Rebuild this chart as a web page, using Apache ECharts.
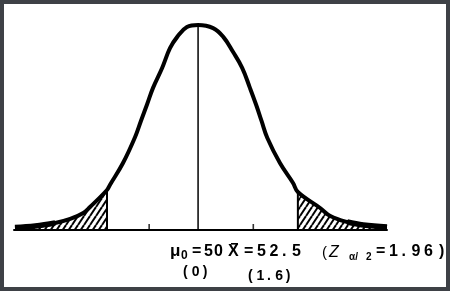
<!DOCTYPE html>
<html><head><meta charset="utf-8">
<script src="https://cdn.jsdelivr.net/npm/echarts@6/dist/echarts.min.js"></script>
<style>html,body{margin:0;padding:0;background:#fff}#c{width:450px;height:291px}</style>
</head><body><div id="c"></div>
<script>
// Curve (z-like units, density)
var curveX = [-3.78,-3.36,-2.95,-2.64,-2.37,-2.23,-1.88,-1.82,-1.55,-1.30,-1.18,-1.05,-0.93,-0.74,-0.58,-0.43,-0.23,0,0.31,0.52,0.72,0.91,1.07,1.20,1.31,1.43,1.69,1.96,2.06,2.52,2.73,3.08,3.41,3.90];
var curveY = [0.0049,0.0078,0.0136,0.0214,0.033,0.0447,0.0777,0.0874,0.130,0.1806,0.2117,0.2447,0.276,0.315,0.353,0.375,0.394,0.398,0.392,0.375,0.346,0.315,0.276,0.2427,0.2117,0.1786,0.130,0.0913,0.0738,0.0427,0.0272,0.0155,0.0097,0.0058];
var cutLeft = -1.88, cutRight = 2.06;
var tailLeftEnd = -2.95, tailRightStart = 3.08;
var tickX = [-1.01, 1.14];
var labelMu = ['μ', '0', '=', '50'];
var labelMean = ['X', '=', '52.5'];
var labelZ = ['(', 'Z', 'α/', '2', '=', '1.96', ')'];
var labelZ0 = '(0)', labelZ1 = '(1.6)';

var pts = curveX.map(function(x,i){return [x, curveY[i]];});
var leftPts = pts.filter(function(p){return p[0] <= cutLeft;});
var rightPts = pts.filter(function(p){return p[0] >= cutRight;});
var leftTail = pts.filter(function(p){return p[0] <= tailLeftEnd;});
var rightTail = pts.filter(function(p){return p[0] >= tailRightStart;});
function yAt(x){ for (var i=0;i<pts.length;i++) if (pts[i][0]===x) return pts[i][1]; return 0; }

var cv = document.createElement('canvas');
var w = 6, h = 9; cv.width = w; cv.height = h;
var g = cv.getContext('2d');
g.strokeStyle = '#000'; g.lineWidth = 2;
[-w,0,w].forEach(function(o){ g.beginPath(); g.moveTo(o,h); g.lineTo(o+w,0); g.stroke(); });

var font = '"Liberation Sans", Arial, sans-serif';
var gr = [];
function txt(s, x, base, size, weight){
  gr.push({type:'text',x:x,y:base - 0.87*size,style:{text:s,font:(weight||'bold')+' '+size+'px '+font,fill:'#000'}});
}
function spaced(s, x, base, size, adv){
  for (var i=0;i<s.length;i++){ var c=s[i]; txt(c, x, base, size); x += (c==='.'||c==='('||c===')') ? adv*0.8 : adv; }
}
// line 1
txt(labelMu[0],170,258,17); txt(labelMu[1],181,260,12); txt(labelMu[2],192,258,16); spaced(labelMu[3],204,258,16,10);
txt(labelMean[0],228,258,16); gr.push({type:'rect',shape:{x:231,y:243,width:7,height:1.6},style:{fill:'#000'}});
txt(labelMean[1],244,258,16); spaced(labelMean[2],257,258,16,12.5);
txt(labelZ[0],322,258,15,'normal'); txt(labelZ[1],329,258,16,'italic');
txt(labelZ[2],349,261,10); txt(labelZ[3],366,261,10);
txt(labelZ[4],376,258,16); spaced(labelZ[5],389,258,16,12.5); txt(labelZ[6],439,258,16);
// line 2
spaced(labelZ0,183,277,14,11);
spaced(labelZ1,248,281,14,10.5);
gr.push({type:'rect',shape:{x:0,y:0,width:450,height:291},style:{fill:'none',stroke:'#3e4146',lineWidth:8},z:100});

var chart = echarts.init(document.getElementById('c'));
chart.setOption({
  animation:false,
  backgroundColor:'#fff',
  grid:{left:14,right:63,top:24,bottom:61},
  xAxis:{type:'value',min:-3.8,max:3.9,axisLine:{show:true,onZero:false,lineStyle:{color:'#000',width:2}},axisTick:{show:false},axisLabel:{show:false},splitLine:{show:false}},
  yAxis:{type:'value',min:0,max:0.4,show:false,splitLine:{show:false}},
  series:[
    {type:'line',data:leftPts,smooth:0.4,showSymbol:false,clip:false,lineStyle:{width:0},areaStyle:{color:{image:cv,repeat:'repeat'},opacity:1}},
    {type:'line',data:rightPts,smooth:0.4,showSymbol:false,clip:false,lineStyle:{width:0},areaStyle:{color:{image:cv,repeat:'repeat'},opacity:1}},
    {type:'line',data:[[cutLeft,0],[cutLeft,yAt(cutLeft)]],showSymbol:false,clip:false,lineStyle:{color:'#000',width:2}},
    {type:'line',data:[[cutRight,0],[cutRight,yAt(cutRight)]],showSymbol:false,clip:false,lineStyle:{color:'#000',width:2}},
    {type:'line',data:[[0,0],[0,0.398]],showSymbol:false,clip:false,lineStyle:{color:'#000',width:1.5}},
    {type:'scatter',data:tickX.map(function(x){return [x,0];}),symbol:'rect',symbolSize:[1.6,6],symbolOffset:[0,-3],itemStyle:{color:'#000'},clip:false},
    {type:'line',data:pts,smooth:0.4,showSymbol:false,clip:false,lineStyle:{color:'#000',width:4}},
    {type:'line',data:leftTail,smooth:0.4,showSymbol:false,clip:false,lineStyle:{color:'#000',width:5.5}},
    {type:'line',data:rightTail,smooth:0.4,showSymbol:false,clip:false,lineStyle:{color:'#000',width:5.5}}
  ],
  graphic:gr
});
</script></body></html>
